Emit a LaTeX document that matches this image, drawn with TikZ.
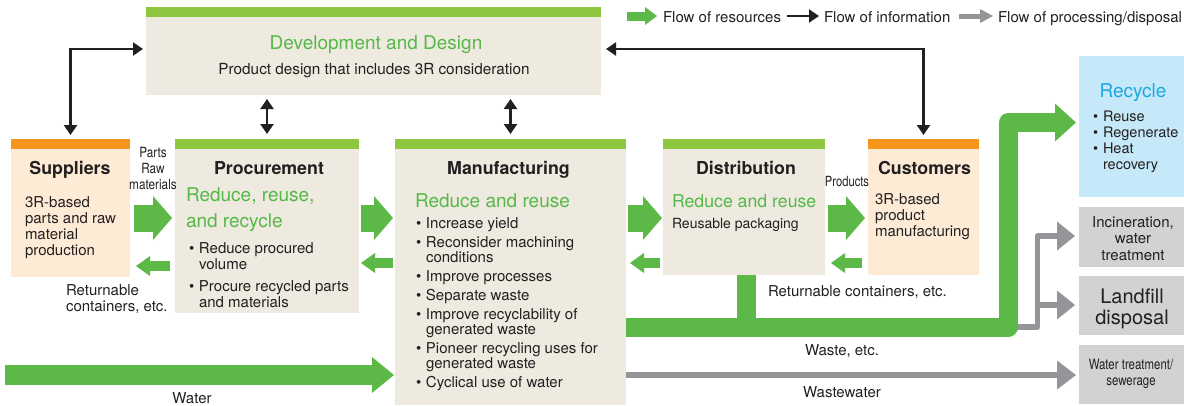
\documentclass[tikz,border=0pt]{standalone}
\usepackage{fontspec}
\setmainfont{TeX Gyre Heros}
\newfontfamily\condA[FakeStretch=0.84]{TeX Gyre Heros}
\newfontfamily\condB[FakeStretch=0.80]{TeX Gyre Heros}
\usetikzlibrary{calc,arrows.meta}
\definecolor{resg}{HTML}{5DB947}
\definecolor{barg}{HTML}{8DC63F}
\definecolor{txtg}{HTML}{55B848}
\definecolor{beige}{HTML}{EEEAE0}
\definecolor{orbar}{HTML}{F7941D}
\definecolor{orbody}{HTML}{FEEBD6}
\definecolor{ink}{HTML}{231F20}
\definecolor{procg}{HTML}{939598}
\definecolor{blbox}{HTML}{C6E9F9}
\definecolor{cyantxt}{HTML}{1AA8E0}
\definecolor{grbox}{HTML}{D1D2D4}
\newcommand\fsz[2]{\fontsize{#1}{#2}\selectfont}
\newcommand\bl[1]{\hbox{\hbox to 10pt{\textbullet\hss}#1}}
\newcommand\cl[1]{\hbox{\hskip10pt #1}}
\newcommand\vl[2]{\vtop{\baselineskip=#1\lineskiplimit=-50pt\lineskip=0pt #2}}
\newcommand\cvl[2]{\vtop{\baselineskip=#1\lineskiplimit=-50pt\lineskip=0pt\halign{\hfil##\hfil\cr#2\crcr}}}
\newcommand\flowtip[5]{%
  \path ($(#3)!#5!(#2)$) coordinate (fb);
  \fill[#1] ($(fb)!#4!90:(#3)$) -- (#3) -- ($(fb)!#4!-90:(#3)$) -- cycle;}
\newcommand\flow[6]{%
  \flowtip{#1}{#2}{#3}{#5}{#6}%
  \draw[#1, line width=#4] (#2) -- ($(fb)!1pt!(#3)$);}
\begin{document}
\begin{tikzpicture}[x=1pt,y=-1pt,
  every node/.style={inner sep=0pt,outer sep=0pt,text=ink},
  box/.style={fill=#1,anchor=north west,inner sep=0pt,outer sep=0pt},
  info/.style={draw=ink,line width=2.4pt,>={Triangle[length=10pt,width=13pt]}},
  title/.style={anchor=base,font=\bfseries\fsz{17.8}{20}},
  body/.style={anchor=base west,font=\fsz{15}{16}},
  gtext/.style={anchor=base west,text=txtg}]
\useasboundingbox (0,0) rectangle (1184,405);
% ---------- boxes ----------
\node[box=beige,minimum width=455pt,minimum height=78pt] (dev) at (146,17) {};
\node[box=orbody,minimum width=119pt,minimum height=128pt] (supp) at (11,149) {};
\node[box=beige,minimum width=184pt,minimum height=164pt] (proc) at (175,149) {};
\node[box=beige,minimum width=231pt,minimum height=256pt] (manu) at (395,149) {};
\node[box=beige,minimum width=162pt,minimum height=126pt] (dist) at (663,149) {};
\node[box=orbody,minimum width=111pt,minimum height=126pt] (cust) at (868,149) {};
\node[box=blbox,minimum width=105pt,minimum height=141pt] (recyc) at (1079,56) {};
\node[box=grbox,minimum width=105pt,minimum height=60pt] (incin) at (1079,207) {};
\node[box=grbox,minimum width=105pt,minimum height=59pt] (landf) at (1079,276) {};
\node[box=grbox,minimum width=105pt,minimum height=59pt] (wtreat) at (1079,345) {};
\foreach \b in {dev,proc,manu,dist}{\fill[barg] (\b.north west) rectangle ([yshift=10pt]\b.north east);}
\foreach \b in {supp,cust}{\fill[orbar] (\b.north west) rectangle ([yshift=10pt]\b.north east);}
% ---------- texts ----------
\node[anchor=base,text=txtg,font=\fsz{19}{22}] (devt) at (376,49) {Development and Design};
\node[anchor=base,font=\fsz{15.3}{18}] (devs) at (374,74.5) {Product design that includes 3R consideration};
\node[title] (supt) at (70,174) {Suppliers};
\node[title] (proct) at (269,174) {Procurement};
\node[title] (manut) at (508.5,174) {Manufacturing};
\node[title] (distt) at (746,174) {Distribution};
\node[title] (custt) at (924.5,174) {Customers};
\node[body] (supb) at (25,207) {\vl{16.3pt}{\hbox{3R-based}\hbox{parts and raw}\hbox{material}\hbox{production}}};
\node[anchor=base,font=\condA\fsz{14}{16}] (partsl) at (153,157) {\cvl{16pt}{Parts\cr Raw\cr materials}};
\node[gtext,font=\fsz{19}{26}] (procg1) at (186,201) {\vl{26pt}{\hbox{Reduce, reuse,}\hbox{and recycle}}};
\node[body] (procb) at (189,253) {\vl{16pt}{\bl{Reduce procured}\cl{volume}\vskip6pt\bl{Procure recycled parts}\cl{and materials}}};
\node[gtext,font=\fsz{19}{22}] (manug) at (415,207) {Reduce and reuse};
\node[body] (manub) at (416,228) {\vl{15pt}{\bl{Increase yield}\vskip4pt
  \bl{Reconsider machining}\cl{conditions}\vskip4pt
  \bl{Improve processes}\vskip4pt
  \bl{Separate waste}\vskip4pt
  \bl{Improve recyclability of}\cl{generated waste}\vskip4pt
  \bl{Pioneer recycling uses for}\cl{generated waste}\vskip4pt
  \bl{Cyclical use of water}}};
\node[gtext,font=\fsz{17.7}{20}] (distg) at (672,207) {Reduce and reuse};
\node[anchor=base west,font=\fsz{14}{16}] (distb) at (672,228) {Reusable packaging};
\node[anchor=base,font=\condB\fsz{14}{16}] (prodl) at (847,186) {Products};
\node[body] (custb) at (875,204) {\vl{16pt}{\hbox{3R-based}\hbox{product}\hbox{manufacturing}}};
\node[body] (retr) at (768,296) {Returnable containers, etc.};
\node[body] (retl) at (66,295) {\vl{16pt}{\hbox{Returnable}\hbox{containers, etc.}}};
\node[anchor=base,font=\fsz{15}{16}] (wastel) at (842,355) {Waste, etc.};
\node[anchor=base,font=\fsz{15}{16}] (wwl) at (842,397) {Wastewater};
\node[anchor=base,font=\fsz{15}{16}] (waterl) at (192,403) {Water};
\node[anchor=base,text=cyantxt,font=\fsz{19}{22}] (recyct) at (1133,97) {Recycle};
\node[anchor=base west,font=\fsz{14.5}{16}] (recycb) at (1093,121) {\vl{16pt}{\bl{Reuse}\bl{Regenerate}\bl{Heat}\cl{recovery}}};
\node[anchor=base,font=\fsz{15}{16.5}] (incint) at (1133,227) {\cvl{16.5pt}{Incineration,\cr water\cr treatment}};
\node[anchor=base,font=\fsz{20}{21}] (landft) at (1132,303) {\cvl{21pt}{Landfill\cr disposal}};
\node[anchor=base,font=\condB\fsz{14.3}{16}] (wtreatt) at (1131,369) {\cvl{16pt}{Water treatment/\cr sewerage}};
% ---------- legend ----------
\coordinate (l1a) at (627,16); \coordinate (l1b) at (657,16);
\flow{resg}{l1a}{l1b}{9pt}{9pt}{12pt}
\node[anchor=base west,font=\fsz{15}{16}] (leg1) at (663,22) {Flow of resources};
\coordinate (l2a) at (787,16); \coordinate (l2b) at (819,16);
\draw[info,->,line width=2pt] (l2a) -- (l2b);
\node[anchor=base west,font=\fsz{15}{16}] (leg2) at (824,22) {Flow of information};
\coordinate (l3a) at (959,16); \coordinate (l3b) at (993,16);
\flow{procg}{l3a}{l3b}{5pt}{7pt}{13pt}
\node[anchor=base west,font=\fsz{15}{16}] (leg3) at (998,22) {Flow of processing/disposal};
% ---------- information connectors ----------
\coordinate (iy) at (0,49);
\draw[info,<->,shorten <=4pt,shorten >=3pt] ([yshift=10pt]supp.north) |- (dev.west |- iy);
\draw[info,<->,shorten <=5pt,shorten >=4pt] (dev.east |- iy) -| ([yshift=10pt]cust.north);
\draw[info,<->,shorten <=4pt,shorten >=5pt] (dev.south -| proc.north) -- ([yshift=10pt]proc.north);
\draw[info,<->,shorten <=4pt,shorten >=5pt] (dev.south -| manu.north) -- ([yshift=10pt]manu.north);
% ---------- resource flows ----------
\coordinate (ry) at (0,218);
\coordinate (a1s) at ($(supp.east |- ry)+(4,0)$); \coordinate (a1e) at ($(proc.west |- ry)+(-3,0)$);
\coordinate (a2s) at ($(proc.east |- ry)+(2,0)$); \coordinate (a2e) at ($(manu.west |- ry)+(-2,0)$);
\coordinate (a3s) at ($(manu.east |- ry)+(2,0)$); \coordinate (a3e) at ($(dist.west |- ry)+(-1,0)$);
\coordinate (a4s) at ($(dist.east |- ry)+(3,0)$); \coordinate (a4e) at ($(cust.west |- ry)+(-3,0)$);
\flow{resg}{a1s}{a1e}{27pt}{22pt}{19pt}
\flow{resg}{a2s}{a2e}{27pt}{22pt}{19pt}
\flow{resg}{a3s}{a3e}{27pt}{22pt}{19pt}
\flow{resg}{a4s}{a4e}{27pt}{22pt}{19pt}
\coordinate (by1) at (0,266); \coordinate (by) at (0,263);
\coordinate (b1s) at ($(proc.west |- by1)+(-5,0)$); \coordinate (b1e) at ($(supp.east |- by1)+(6,0)$);
\coordinate (b2s) at ($(manu.west |- by)+(-2,0)$); \coordinate (b2e) at ($(proc.east |- by)+(2,0)$);
\coordinate (b3s) at ($(dist.west |- by)+(-3,0)$); \coordinate (b3e) at ($(manu.east |- by)+(4,0)$);
\coordinate (b4s) at ($(cust.west |- by)+(-6,0)$); \coordinate (b4e) at ($(dist.east |- by)+(6,0)$);
\flow{resg}{b1s}{b1e}{10pt}{10pt}{14pt}
\flow{resg}{b2s}{b2e}{10pt}{10pt}{14pt}
\flow{resg}{b3s}{b3e}{10pt}{10pt}{14pt}
\flow{resg}{b4s}{b4e}{10pt}{10pt}{14pt}
% water
\coordinate (wy2) at (0,375);
\coordinate (wa0) at (5,375); \coordinate (wat) at ($(manu.west |- wy2)+(-1,0)$);
\flow{resg}{wa0}{wat}{20pt}{18pt}{22pt}
% wastewater
\coordinate (ww0) at (manu.east |- wy2); \coordinate (wwt) at ($(wtreat.west |- wy2)+(-3,0)$);
\flow{procg}{ww0}{wwt}{6.5pt}{14.5pt}{19pt}
% processing / disposal
\coordinate (g0) at (1012,327); \coordinate (gc) at (1037.5,327);
\coordinate (gt) at (1037.5,236); \coordinate (gtip) at ($(incin.west |- gt)+(-4,0)$);
\draw[procg,line width=5.5pt,line join=round] (g0) -- (gc) -- (gt) -- ($(gtip)!17pt!(gt)$);
\flowtip{procg}{gt}{gtip}{14.5pt}{18pt}
\coordinate (gb) at (1037.5,305); \coordinate (gbtip) at ($(landf.west |- gb)+(-4,0)$);
\flow{procg}{gb}{gbtip}{5.5pt}{14.5pt}{18pt}
% waste
\coordinate (wy) at (0,327.5);
\coordinate (w0) at (manu.east |- wy); \coordinate (wc) at (1008,327.5);
\coordinate (wu) at (1008,122.5); \coordinate (wtip) at ($(recyc.west |- wu)+(-3,0)$);
\draw[resg,line width=19pt,line join=round] (w0) -- (wc) -- (wu) -- ($(wtip)!20pt!(wu)$);
\flowtip{resg}{wu}{wtip}{19pt}{21pt}
\coordinate (ds0) at ($(dist.south)+(2.5,0)$); \coordinate (ds1) at ($(dist.south |- wy)+(2.5,0)$);
\draw[resg,line width=19pt] (ds0) -- (ds1);
\end{tikzpicture}
\end{document}
